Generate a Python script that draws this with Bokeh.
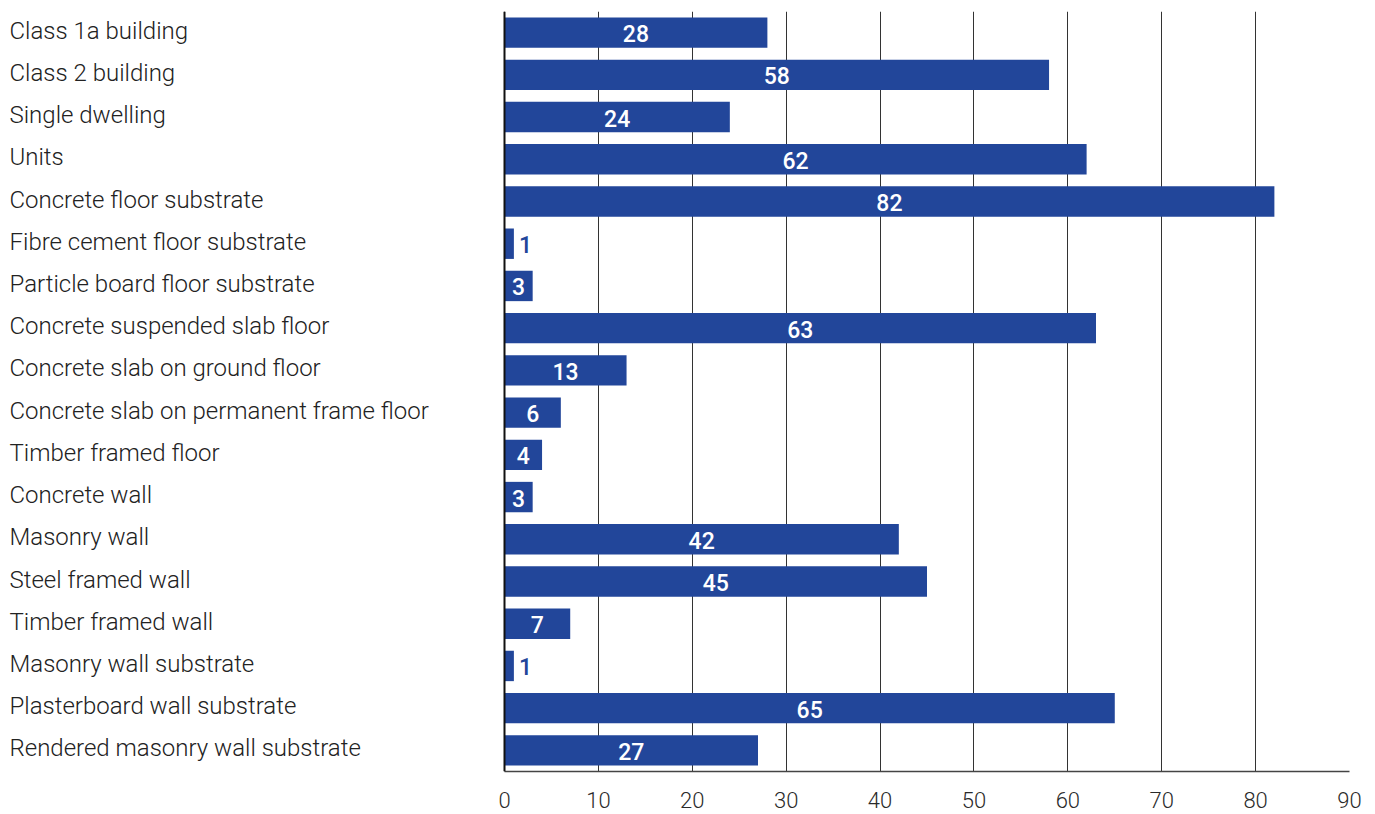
from bokeh.plotting import figure
from bokeh.models import ColumnDataSource, Range1d, FactorRange, FixedTicker, Span
from bokeh.core.properties import value
from bokeh.embed import file_html
from bokeh.resources import INLINE

categories = [
    "Class 1a building", "Class 2 building", "Single dwelling", "Units",
    "Concrete floor substrate", "Fibre cement floor substrate",
    "Particle board floor substrate", "Concrete suspended slab floor",
    "Concrete slab on ground floor", "Concrete slab on permanent frame floor",
    "Timber framed floor", "Concrete wall", "Masonry wall", "Steel framed wall",
    "Timber framed wall", "Masonry wall substrate", "Plasterboard wall substrate",
    "Rendered masonry wall substrate",
]
values = [28, 58, 24, 62, 82, 1, 3, 63, 13, 6, 4, 3, 42, 45, 7, 1, 65, 27]
x_ticks = [0, 10, 20, 30, 40, 50, 60, 70, 80, 90]

BLUE = "#22469a"
LIGHT = "Roboto Light, Roboto"
MEDIUM = "Roboto Medium, Roboto"
W, H = 1375, 814
left_px, right_px = 504, 1349
x_max = 90
scale = (right_px - left_px) / x_max
x_start = -left_px / scale

p = figure(width=W, height=H, output_backend="svg", toolbar_location=None,
           x_range=Range1d(x_start, x_max),
           y_range=FactorRange(factors=list(reversed(categories))),
           y_axis_location=None,
           min_border_left=0, min_border_right=W - right_px,
           min_border_top=11, min_border_bottom=H - 771)
p.outline_line_color = None
p.ygrid.grid_line_color = None
p.xgrid.ticker = FixedTicker(ticks=x_ticks)
p.xgrid.grid_line_color = "#333333"
p.xgrid.grid_line_width = 1

src = ColumnDataSource(dict(cat=categories, val=values))
p.hbar(y="cat", left=0, right="val", height=0.72, source=src,
       fill_color=BLUE, line_color=None)

p.add_layout(Span(location=0, dimension="height", line_color="#111111", line_width=2))

ax = p.xaxis[0]
ax.ticker = FixedTicker(ticks=x_ticks)
ax.bounds = (0, x_max)
ax.axis_line_color = "#444444"
ax.axis_line_width = 1.5
ax.major_tick_line_color = None
ax.minor_tick_line_color = None
ax.major_label_standoff = 14
ax.major_label_text_font = LIGHT
ax.major_label_text_font_size = "22px"
ax.major_label_text_color = "#2a2a2a"

# category labels, left aligned at the left edge
lab_x = x_start + 9 / scale
p.text(x=[lab_x] * len(categories), y=categories, text=categories,
       text_font=value(LIGHT), text_font_size="24px", text_color="#222222",
       text_align="left", text_baseline="middle", y_offset=-2)

# value labels
inside = [v for v in values if v >= 3]
inside_c = [c for c, v in zip(categories, values) if v >= 3]
outside = [v for v in values if v < 3]
outside_c = [c for c, v in zip(categories, values) if v < 3]
p.text(x=[v / 2 for v in inside], y=inside_c, text=[str(v) for v in inside],
       text_font=value(MEDIUM), text_font_size="23px",
       text_color="white", text_align="center", text_baseline="middle", y_offset=1)
p.text(x=outside, y=outside_c, text=[str(v) for v in outside],
       text_font=value(MEDIUM), text_font_size="23px",
       text_color=BLUE, text_align="left", text_baseline="middle", x_offset=5, y_offset=1)

open("out.html", "w").write(file_html(p, INLINE))
